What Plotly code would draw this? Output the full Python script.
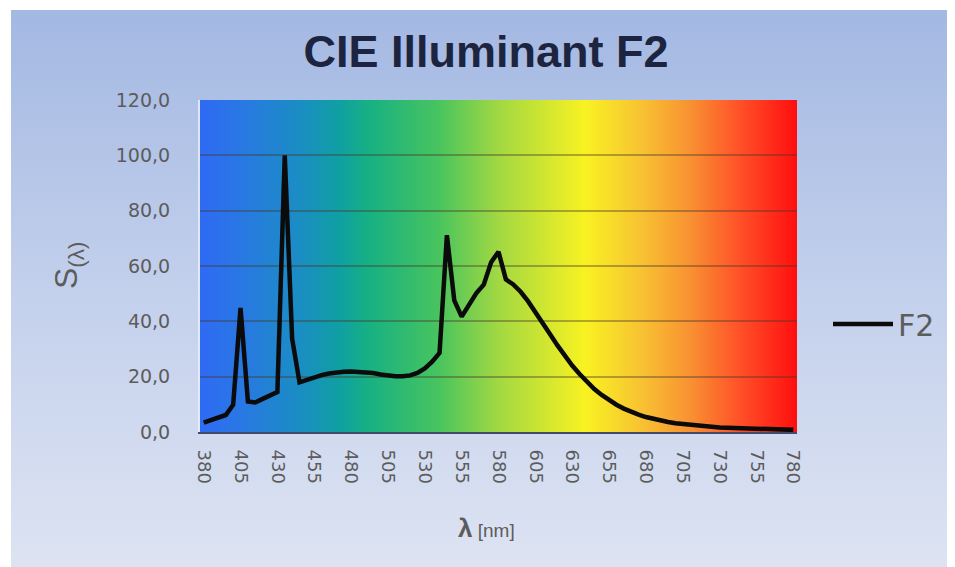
import base64
import plotly.graph_objects as go

# ---------------- data ----------------
wavelength_nm = list(range(380, 785, 5))
f2_values = [
    3.37, 4.23, 5.26, 6.15, 9.83, 44.86, 11.01, 10.69, 11.98, 13.21,
    14.47, 100.0, 33.76, 17.93, 18.95, 19.81, 20.56, 21.16, 21.56, 21.78,
    21.87, 21.78, 21.78, 21.30, 20.81, 20.44, 20.16, 20.13, 20.47, 21.36,
    22.99, 25.39, 28.62, 71.13, 47.57, 41.71, 46.20, 50.20, 53.23, 61.38,
    65.15, 55.15, 53.35, 50.69, 47.28, 43.48, 39.45, 35.33, 31.30, 27.59,
    24.01, 20.93, 18.04, 15.52, 13.38, 11.49, 9.86, 8.46, 7.29, 6.26,
    5.40, 4.69, 4.37, 3.63, 3.14, 2.83, 2.52, 2.17, 1.94, 1.74,
    1.60, 1.54, 1.46, 1.34, 1.34, 1.23, 1.32, 1.34, 1.14, 0.94,
    0.77,
]
x_tick_values = list(range(380, 781, 25))
y_tick_values = [0, 20, 40, 60, 80, 100, 120]
series_name = "F2"
chart_title = "CIE Illuminant F2"

# ---------------- decorative gradients (SVG data URIs) ----------------
def svg_uri(svg):
    return "data:image/svg+xml;base64," + base64.b64encode(svg.encode("utf-8")).decode("ascii")

spectrum_stops = [
    (0.00, "#2f6af5"), (0.06, "#2a76e6"), (0.17, "#1a8ec2"), (0.235, "#0fa0a2"),
    (0.28, "#16b084"), (0.40, "#48c45e"), (0.50, "#a2d842"), (0.645, "#f8f222"),
    (0.74, "#f8c232"), (0.82, "#f89232"), (0.905, "#ff5028"), (1.00, "#ff0e0e"),
]
stops_svg = "".join(
    f'<stop offset="{o}" stop-color="{c}"/>' for o, c in spectrum_stops
)
spectrum_svg = (
    '<svg xmlns="http://www.w3.org/2000/svg" width="600" height="100" '
    'viewBox="0 0 600 100" preserveAspectRatio="none">'
    f'<defs><linearGradient id="g" x1="0" y1="0" x2="1" y2="0">{stops_svg}</linearGradient></defs>'
    '<rect width="600" height="100" fill="url(#g)"/></svg>'
)
bg_svg = (
    '<svg xmlns="http://www.w3.org/2000/svg" width="100" height="100" '
    'viewBox="0 0 100 100" preserveAspectRatio="none">'
    '<defs><linearGradient id="b" x1="0" y1="0" x2="0" y2="1">'
    '<stop offset="0" stop-color="#a3b8e2"/>'
    '<stop offset="0.5" stop-color="#c3d0ec"/>'
    '<stop offset="1" stop-color="#dde3f2"/>'
    '</linearGradient></defs>'
    '<rect width="100" height="100" fill="url(#b)"/></svg>'
)

OFF = 8                      # page body margin
W, H = 955 - OFF, 567 - OFF  # figure size
L, R, T, B = 192, 158, 92, 135
pw, ph = W - L - R, H - T - B

def px_x(p):   # page pixel -> paper x
    return (p - OFF - L) / pw

def px_y(p):   # page pixel -> paper y
    return (OFF + H - B - p) / ph

TICK_FONT = "DejaVu Sans, Verdana, sans-serif"
GREY = "#5c5c5c"

fig = go.Figure()
fig.add_trace(go.Scatter(
    x=wavelength_nm, y=f2_values, mode="lines", name=series_name,
    line=dict(color="#0b0b0b", width=4.5),
))

fig.update_layout(
    width=W, height=H,
    margin=dict(l=L, r=R, t=T, b=B),
    paper_bgcolor="white",
    plot_bgcolor="rgba(0,0,0,0)",
    separators=",.",
    font=dict(family="Liberation Sans, Arial, sans-serif", color=GREY),
    title=dict(
        text=f"<b>{chart_title}</b>", x=(486 - OFF) / W, xanchor="center",
        y=1 - (51 - OFF) / H, yanchor="middle",
        font=dict(size=45, color="#1c2440"),
    ),
    showlegend=True,
    legend=dict(
        x=px_x(828), y=px_y(324), xanchor="left", yanchor="middle",
        itemwidth=60,
        bgcolor="rgba(0,0,0,0)", font=dict(size=30, color=GREY, family=TICK_FONT),
    ),
    images=[
        dict(source=svg_uri(bg_svg), xref="paper", yref="paper",
             x=px_x(11), y=px_y(10), sizex=(955 - 11) / pw, sizey=(567 - 10) / ph,
             xanchor="left", yanchor="top", sizing="stretch", layer="below"),
        dict(source=svg_uri(spectrum_svg), xref="paper", yref="paper",
             x=0, y=1, sizex=1, sizey=1,
             xanchor="left", yanchor="top", sizing="stretch", layer="below"),
    ],
    annotations=[
        dict(text="S<sub>(λ)</sub>", xref="paper", yref="paper",
             x=px_x(68), y=0.5, xanchor="center", yanchor="middle",
             textangle=-90, showarrow=False,
             font=dict(size=32, color=GREY)),
        dict(text="<b>λ</b><span style='font-size:19px'> [nm]</span>",
             xref="paper", yref="paper", x=px_x(486), y=px_y(528),
             xanchor="center", yanchor="middle",
             showarrow=False, font=dict(size=26, color=GREY)),
    ],
)

fig.update_xaxes(
    range=[377.5, 782.5], tickvals=x_tick_values, tickangle=90,
    ticks="outside", ticklen=12, tickcolor="rgba(0,0,0,0)",
    tickfont=dict(size=18, color=GREY, family=TICK_FONT),
    showgrid=False, zeroline=False,
    showline=True, linecolor="rgba(20,25,60,0.75)", linewidth=2,
)
fig.update_yaxes(
    range=[0, 120], tickvals=y_tick_values, tickformat=".1f",
    ticks="outside", ticklen=24, tickcolor="rgba(0,0,0,0)",
    tickfont=dict(size=19, color=GREY, family=TICK_FONT),
    showgrid=True, gridcolor="rgba(70,55,40,0.40)", gridwidth=1.5,
    zeroline=False,
    showline=True, linecolor="rgba(230,240,255,0.8)", linewidth=2,
)

fig.write_html("out.html")
